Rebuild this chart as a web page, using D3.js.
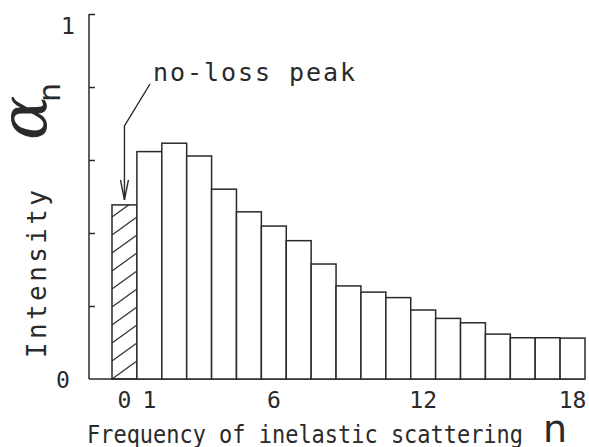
<!DOCTYPE html>
<html>
<head>
<meta charset="utf-8">
<script src="https://cdn.jsdelivr.net/npm/d3@7"></script>
<style>
  body { margin: 0; background: #fff; }
  text { font-family: "DejaVu Sans Mono", monospace; fill: #2a2a2a; }
</style>
</head>
<body>
<svg></svg>
<script>
// scattering order n and relative intensity alpha_n
const orders = d3.range(0, 19);
const intensity = [0.477, 0.623, 0.646, 0.611, 0.52, 0.458, 0.419, 0.379, 0.315,
  0.255, 0.238, 0.223, 0.189, 0.166, 0.154, 0.123, 0.113, 0.113, 0.112];
const xTickValues = [0, 1, 6, 12, 18];
const yMinorTicks = [0.2, 0.4, 0.6, 0.8, 1];

const width = 589;
const height = 447;

const svg = d3.select("svg").attr("width", width).attr("height", height);

const x = d3.scaleBand().domain(orders).range([112, 585]).padding(0);
const y = d3.scaleLinear().domain([0, 1]).range([379, 14]);
const axisX = 89;

// hatch pattern for the no-loss peak
const defs = svg.append("defs");
const pat = defs
  .append("pattern")
  .attr("id", "hatch")
  .attr("patternUnits", "userSpaceOnUse")
  .attr("x", x(0))
  .attr("y", y(0))
  .attr("width", x.bandwidth())
  .attr("height", 18);
pat
  .append("line")
  .attr("x1", -x.bandwidth())
  .attr("y1", 36)
  .attr("x2", 2 * x.bandwidth())
  .attr("y2", -18)
  .attr("stroke", "#2a2a2a")
  .attr("stroke-width", 1.2);

// y axis (ticks point inward)
const yAxis = d3.axisRight(y).tickValues(yMinorTicks).tickSize(6).tickFormat("");
svg
  .append("g")
  .attr("transform", `translate(${axisX},0)`)
  .call(yAxis)
  .call((g) => g.select(".domain").attr("d", `M0,${y(1)}V${y(0)}`))
  .call((g) => g.selectAll("path,line").attr("stroke", "#2a2a2a").attr("stroke-width", 1.5));

// baseline
svg
  .append("line")
  .attr("x1", axisX)
  .attr("x2", x.range()[1])
  .attr("y1", y(0))
  .attr("y2", y(0))
  .attr("stroke", "#2a2a2a")
  .attr("stroke-width", 1.5);

// y labels 0 and 1
svg.append("text").attr("x", 63).attr("y", y(0) + 9).attr("text-anchor", "middle")
  .style("font-size", "23px").text("0");
svg.append("text").attr("x", 68).attr("y", y(1) + 20).attr("text-anchor", "middle")
  .style("font-size", "23px").text("1");

// bars
svg
  .selectAll("rect.bar")
  .data(orders)
  .enter()
  .append("rect")
  .attr("class", "bar")
  .attr("x", (d) => x(d))
  .attr("y", (d) => y(intensity[d]))
  .attr("width", x.bandwidth())
  .attr("height", (d) => y(0) - y(intensity[d]))
  .attr("fill", (d) => (d === 0 ? "url(#hatch)" : "#fff"))
  .attr("stroke", "#2a2a2a")
  .attr("stroke-width", 1.5);

// x tick labels
const xAxis = d3.axisBottom(x).tickValues(xTickValues).tickSize(0).tickPadding(0);
svg
  .append("g")
  .attr("transform", `translate(0,${y(0) + 13})`)
  .call(xAxis)
  .call((g) => g.select(".domain").remove())
  .call((g) =>
    g.selectAll("text")
      .style("font-family", '"DejaVu Sans Mono", monospace')
      .style("font-size", "23px")
      .attr("fill", "#2a2a2a")
  );

// axis titles
svg
  .append("text")
  .attr("x", 87)
  .attr("y", 443)
  .attr("textLength", 436)
  .attr("lengthAdjust", "spacingAndGlyphs")
  .style("font-size", "24px")
  .text("Frequency of inelastic scattering");
svg
  .append("text")
  .attr("x", 543)
  .attr("y", 442)
  .style("font-family", '"DejaVu Sans", sans-serif')
  .style("font-size", "38px")
  .text("n");

const yTitle = svg.append("g").attr("transform", "translate(46,358) rotate(-90)");
yTitle
  .append("text")
  .attr("x", 0)
  .attr("y", 0)
  .attr("textLength", 168)
  .attr("lengthAdjust", "spacing")
  .style("font-size", "26px")
  .text("Intensity");
yTitle
  .append("text")
  .attr("x", 218)
  .attr("y", 0)
  .style("font-family", '"DejaVu Serif", serif')
  .style("font-style", "italic")
  .style("font-size", "66px")
  .text("α");
yTitle
  .append("text")
  .attr("x", 256)
  .attr("y", 14)
  .style("font-family", '"DejaVu Sans", sans-serif')
  .style("font-size", "30px")
  .text("n");

// annotation: no-loss peak
const tipX = x(0) + x.bandwidth() / 2;
const tipY = y(intensity[0]) - 5;
svg
  .append("text")
  .attr("x", 153)
  .attr("y", 81)
  .attr("textLength", 202)
  .attr("lengthAdjust", "spacing")
  .style("font-size", "25px")
  .text("no-loss peak");
svg
  .append("path")
  .attr("d", `M150,84L${tipX},126V${tipY}`)
  .attr("fill", "none")
  .attr("stroke", "#2a2a2a")
  .attr("stroke-width", 1.4);
svg
  .append("path")
  .attr("d", `M${tipX - 4},${tipY - 20}L${tipX},${tipY}L${tipX + 4},${tipY - 20}`)
  .attr("fill", "none")
  .attr("stroke", "#2a2a2a")
  .attr("stroke-width", 1.4);
</script>
</body>
</html>
